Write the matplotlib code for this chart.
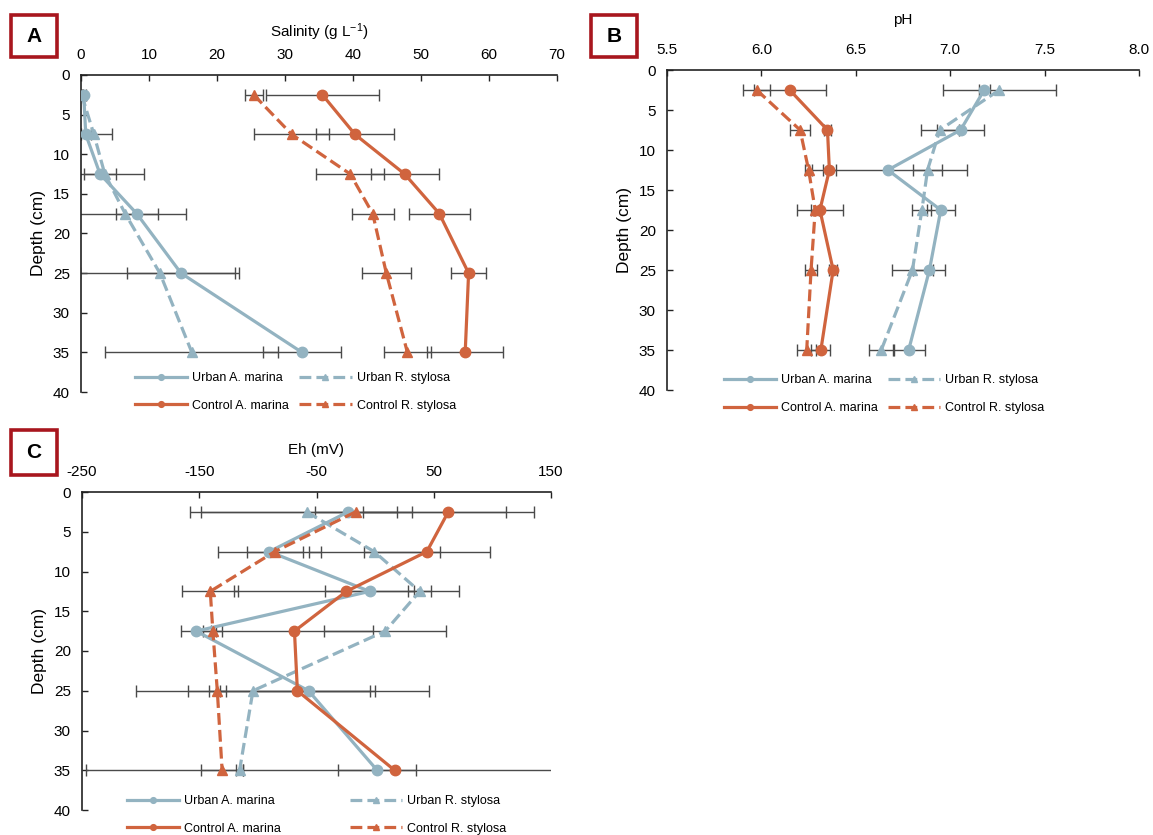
import matplotlib
matplotlib.use("Agg")
import matplotlib.pyplot as plt
from matplotlib.patches import Rectangle

plt.rcParams['font.family'] = ['Liberation Sans', 'DejaVu Sans']
plt.rcParams['mathtext.fontset'] = 'custom'
plt.rcParams['mathtext.rm'] = 'Liberation Sans'

BLUE = "#93B3C1"
ORANGE = "#D0643E"
ERR = "#4A4A4A"
BOX_RED = "#A8161E"

DEPTH = [2.5, 7.5, 12.5, 17.5, 25, 35]
LABELS = ["Urban A. marina", "Urban R. stylosa", "Control A. marina", "Control R. stylosa"]

# Salinity (g/L)
sal_urban_am = [0.4, 0.7, 2.8, 8.2, 14.7, 32.5]
sal_urban_am_err = [0.3, 0.7, 2.4, 3.1, 7.9, 5.8]
sal_urban_rs = [0.1, 1.9, 3.5, 6.5, 11.6, 16.3]
sal_urban_rs_err = [0.2, 2.7, 5.7, 9.0, 11.7, 12.7]
sal_control_am = [35.5, 40.3, 47.6, 52.7, 57.0, 56.5]
sal_control_am_err = [8.3, 5.7, 5.0, 4.5, 2.6, 5.6]
sal_control_rs = [25.4, 31.0, 39.6, 42.9, 44.9, 48.0]
sal_control_rs_err = [1.3, 5.5, 5.0, 3.1, 3.6, 3.4]

# pH
ph_urban_am = [7.18, 7.055, 6.67, 6.95, 6.89, 6.78]
ph_urban_am_err = [0.03, 0.125, 0.42, 0.075, 0.085, 0.085]
ph_urban_rs = [7.26, 6.945, 6.88, 6.85, 6.80, 6.635]
ph_urban_rs_err = [0.3, 0.1, 0.078, 0.05, 0.11, 0.065]
ph_control_am = [6.15, 6.35, 6.36, 6.31, 6.38, 6.315]
ph_control_am_err = [0.19, 0.02, 0.033, 0.12, 0.02, 0.05]
ph_control_rs = [5.975, 6.205, 6.25, 6.285, 6.263, 6.24]
ph_control_rs_err = [0.07, 0.055, 0.02, 0.02, 0.033, 0.05]

# Eh (mV)
eh_urban_am = [-23, -90.3, -4.6, -152.6, -56.8, 1.7]
eh_urban_am_err = [135, 44, 38, 13, 103, 33]
eh_urban_rs = [-58.4, -0.8, 38, 8.6, -104.2, -115.6]
eh_urban_rs_err = [90, 56, 10, 52, 100, 3]
eh_control_am = [62.4, 44.1, -24.5, -68.8, -66.3, 16.6]
eh_control_am_err = [73, 54, 96, 67, 66, 263]
eh_control_rs = [-16.6, -85.6, -140.6, -138.4, -134.6, -130.5]
eh_control_rs_err = [35, 24, 24, 8, 7.5, 18]

W, H = 1153, 835
fig = plt.figure(figsize=(W / 100, H / 100), dpi=100)


def px_axes(left, top, right, bottom):
    return fig.add_axes([left / W, 1 - bottom / H, (right - left) / W, (bottom - top) / H])


def letter_box(letter, left, top, right, bottom):
    fig.patches.append(Rectangle((left / W, 1 - bottom / H), (right - left) / W, (bottom - top) / H,
                                 transform=fig.transFigure, facecolor="white",
                                 edgecolor=BOX_RED, linewidth=2.6))
    fig.text((left + right) / 2 / W, 1 - (top + bottom) / 2 / H, letter, ha="center", va="center",
             fontsize=15, fontweight="bold", color="black")


def profile(ax, series, xlim, xticks, xticklabels, xlabel, xlabelpad, legend_anchor, colspacing):
    handles = []
    styles = [(BLUE, "-", "o"), (BLUE, "--", "^"), (ORANGE, "-", "o"), (ORANGE, "--", "^")]
    for (vals, errs), (col, ls, mk), lab in zip(series, styles, LABELS):
        ax.errorbar(vals, DEPTH, xerr=errs, fmt="none", ecolor=ERR, elinewidth=1.0,
                    capsize=4, capthick=1.0, zorder=2)
        h, = ax.plot(vals, DEPTH, color=col, linestyle=ls, linewidth=2.3, marker=mk,
                     markersize=7.5, markeredgecolor=col, zorder=3, label=lab)
        handles.append(h)

    ax.set_xlim(*xlim)
    ax.set_ylim(40, 0)
    ax.set_xticks(xticks)
    ax.set_xticklabels(xticklabels)
    ax.set_yticks(range(0, 41, 5))
    ax.xaxis.tick_top()
    ax.xaxis.set_label_position("top")
    ax.set_xlabel(xlabel, fontsize=11, labelpad=xlabelpad)
    ax.set_ylabel("Depth (cm)", fontsize=12.5, labelpad=5)
    ax.tick_params(axis="both", direction="in", length=4, width=1.0, labelsize=11, color="#222222")
    ax.tick_params(axis="x", pad=9)
    ax.tick_params(axis="y", pad=8)
    for side in ("right", "bottom"):
        ax.spines[side].set_visible(False)
    for side in ("left", "top"):
        ax.spines[side].set_linewidth(1.2)
        ax.spines[side].set_color("#222222")

    order = [handles[0], handles[2], handles[1], handles[3]]
    ax.legend(order, [h.get_label() for h in order], ncol=2, loc="center",
              bbox_to_anchor=legend_anchor, frameon=False, fontsize=9,
              handlelength=4.2, markerscale=0.55, columnspacing=colspacing,
              handletextpad=0.4, labelspacing=1.25)


# A: salinity
ax_a = px_axes(81, 75, 557, 392)
profile(ax_a,
        [(sal_urban_am, sal_urban_am_err), (sal_urban_rs, sal_urban_rs_err),
         (sal_control_am, sal_control_am_err), (sal_control_rs, sal_control_rs_err)],
        (0, 70), range(0, 71, 10), [str(v) for v in range(0, 71, 10)],
        r"Salinity (g L$\mathregular{^{-1}}$)", 8, (0.45, 0.0), 0.8)

# B: pH
ax_b = px_axes(667, 70, 1139, 390)
ph_ticks = [5.5, 6.0, 6.5, 7.0, 7.5, 8.0]
profile(ax_b,
        [(ph_urban_am, ph_urban_am_err), (ph_urban_rs, ph_urban_rs_err),
         (ph_control_am, ph_control_am_err), (ph_control_rs, ph_control_rs_err)],
        (5.5, 8.0), ph_ticks, [f"{v:.1f}" for v in ph_ticks],
        "pH", 14, (0.46, -0.013), 0.8)

# C: redox potential
ax_c = px_axes(82, 492, 551, 810)
eh_ticks = [-250, -150, -50, 50, 150]
profile(ax_c,
        [(eh_urban_am, eh_urban_am_err), (eh_urban_rs, eh_urban_rs_err),
         (eh_control_am, eh_control_am_err), (eh_control_rs, eh_control_rs_err)],
        (-250, 150), eh_ticks, [str(v) for v in eh_ticks],
        "Eh (mV)", 8, (0.5, -0.015), 5.5)

letter_box("A", 11, 15, 57, 57)
letter_box("B", 591, 15, 637, 57)
letter_box("C", 11, 430, 57, 475)

fig.savefig("out.png", dpi=100, facecolor="white")
